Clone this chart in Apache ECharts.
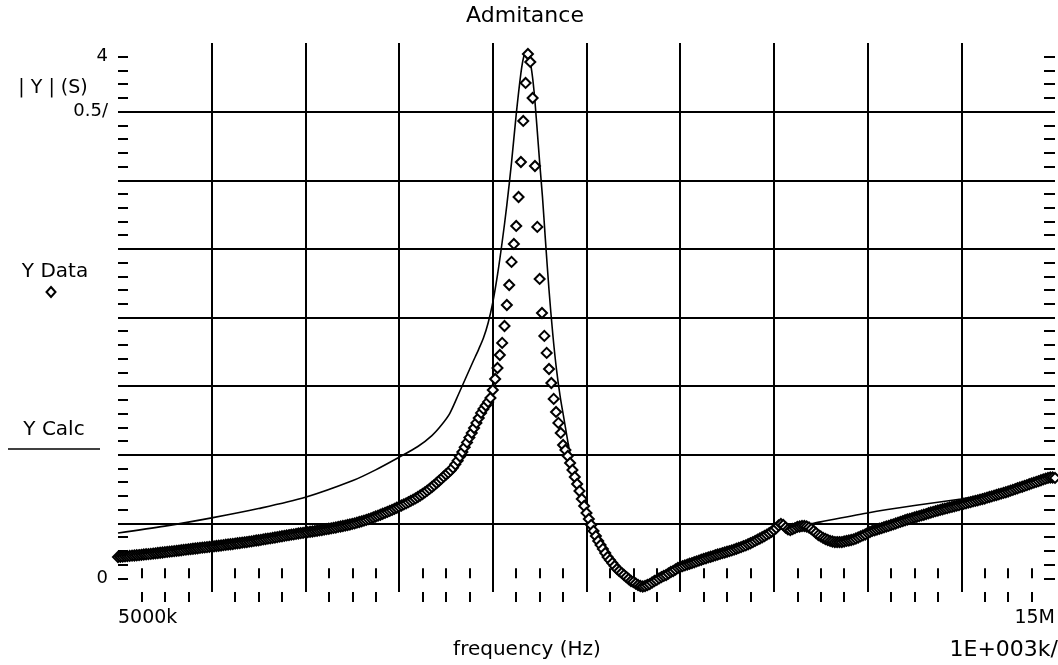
<!DOCTYPE html>
<html><head><meta charset="utf-8">
<script src="https://cdn.jsdelivr.net/npm/echarts@6/dist/echarts.min.js"></script>
<style>html,body{margin:0;padding:0;background:#fff}#c{width:1058px;height:665px}</style>
</head><body><div id="c"></div>
<script>
// ---------- texts ----------
const chartTitle = 'Admitance';
const xName = 'frequency (Hz)';
const xScaleNote = '1E+003k/';
const yName = '| Y | (S)';
const seriesNames = ['Y Data', 'Y Calc'];

// ---------- tick labels ----------
const xLabelValues = [5, 15];            // MHz
const xLabelTexts = ['5000k', '15M'];
const yLabelValues = [0, 3.4, 3.8];
const yLabelTexts = ['0', '0.5/', '4'];

// ---------- measured data (sweep 5 MHz .. 15 MHz, 25 kHz step) ----------
const sweepStartMHz = 5;
const sweepStepMHz = 0.025;
const yData = [
  // 5.000 - 5.975
  0.155,0.157,0.158,0.160,0.161,0.163,0.165,0.166,0.168,0.169,
  0.171,0.173,0.175,0.176,0.178,0.180,0.182,0.184,0.186,0.188,
  0.190,0.192,0.194,0.196,0.198,0.200,0.202,0.204,0.207,0.209,
  0.211,0.213,0.215,0.217,0.219,0.221,0.223,0.225,0.227,0.229,
  // 6.000 - 6.975
  0.231,0.233,0.235,0.237,0.239,0.241,0.244,0.246,0.248,0.250,
  0.253,0.255,0.257,0.260,0.262,0.264,0.267,0.269,0.272,0.275,
  0.277,0.280,0.283,0.286,0.289,0.291,0.294,0.297,0.300,0.303,
  0.306,0.309,0.312,0.315,0.318,0.320,0.323,0.326,0.329,0.331,
  // 7.000 - 7.975
  0.334,0.336,0.339,0.341,0.344,0.346,0.349,0.352,0.355,0.358,
  0.361,0.364,0.367,0.370,0.374,0.377,0.381,0.384,0.388,0.392,
  0.396,0.400,0.405,0.410,0.415,0.420,0.425,0.431,0.437,0.443,
  0.450,0.456,0.463,0.470,0.477,0.484,0.491,0.498,0.506,0.514,
  // 8.000 - 8.975
  0.522,0.530,0.538,0.546,0.555,0.564,0.573,0.582,0.592,0.603,
  0.614,0.626,0.638,0.651,0.665,0.679,0.694,0.709,0.724,0.740,
  0.756,0.770,0.786,0.806,0.830,0.857,0.887,0.920,0.955,0.990,
  1.025,1.059,1.095,1.132,1.168,1.205,1.234,1.259,1.285,1.314,
  // 9.000 - 9.975
  1.372,1.452,1.532,1.627,1.715,1.838,1.991,2.137,2.305,2.436,
  2.567,2.778,3.033,3.332,3.609,3.820,3.762,3.499,3.004,2.560,
  2.181,1.933,1.766,1.642,1.525,1.423,1.307,1.212,1.132,1.059,
  0.971,0.935,0.891,0.840,0.789,0.738,0.687,0.636,0.578,0.527,
  // 10.000 - 10.975
  0.476,0.432,0.388,0.345,0.308,0.272,0.243,0.214,0.184,0.155,
  0.133,0.111,0.090,0.068,0.053,0.039,0.024,0.009,-0.005,-0.020,
  -0.027,-0.038,-0.049,-0.056,-0.060,-0.056,-0.049,-0.042,-0.031,-0.020,
  -0.012,-0.001,0.009,0.017,0.024,0.035,0.046,0.053,0.064,0.075,
  // 11.000 - 11.975
  0.082,0.088,0.094,0.100,0.106,0.111,0.117,0.123,0.129,0.135,
  0.141,0.146,0.152,0.157,0.162,0.168,0.173,0.178,0.183,0.188,
  0.193,0.198,0.203,0.209,0.215,0.221,0.227,0.234,0.240,0.248,
  0.255,0.263,0.272,0.281,0.290,0.299,0.308,0.318,0.328,0.339,
  // 12.000 - 12.975
  0.352,0.366,0.385,0.396,0.388,0.370,0.356,0.352,0.359,0.366,
  0.374,0.377,0.381,0.381,0.377,0.370,0.359,0.345,0.330,0.315,
  0.305,0.294,0.286,0.279,0.272,0.268,0.264,0.264,0.264,0.264,
  0.268,0.272,0.275,0.279,0.283,0.290,0.297,0.305,0.312,0.319,
  // 13.000 - 13.975
  0.330,0.337,0.345,0.350,0.355,0.361,0.366,0.372,0.377,0.382,
  0.388,0.393,0.399,0.405,0.411,0.417,0.423,0.428,0.433,0.438,
  0.443,0.448,0.453,0.458,0.463,0.468,0.474,0.479,0.484,0.489,
  0.494,0.498,0.503,0.507,0.511,0.516,0.520,0.525,0.529,0.533,
  // 14.000 - 14.975
  0.538,0.542,0.546,0.551,0.555,0.560,0.564,0.568,0.573,0.577,
  0.581,0.587,0.592,0.597,0.602,0.607,0.612,0.617,0.622,0.627,
  0.632,0.638,0.644,0.650,0.656,0.662,0.667,0.673,0.679,0.685,
  0.691,0.697,0.702,0.708,0.714,0.720,0.726,0.731,0.734,0.734,
  // 15.000
  0.731
];

// ---------- calculated model curve ----------
const calcFreq = [5.0,5.5,6.0,6.5,7.0,7.5,7.75,8.0,8.2,8.35,8.45,8.54,8.64,8.78,8.85,8.9,8.95,9.0,9.05,9.1,
  9.15,9.2,9.25,9.3,9.33,9.355,9.38,9.41,9.44,9.47,9.5,9.53,9.56,9.6,9.64,9.68,9.72,9.76,9.81,9.9,
  10.0,10.1,10.2,10.3,10.4,10.5,10.6,10.7,10.8,11.0,11.5,12.0,12.07,12.15,12.25,12.34,12.5,13.0,13.5,14.0,
  14.5,15.0];
const yCalc = [0.330,0.380,0.440,0.508,0.590,0.710,0.790,0.882,0.960,1.040,1.115,1.200,1.350,1.565,1.670,1.750,1.860,2.010,2.210,2.450,
  2.720,3.030,3.380,3.680,3.800,3.830,3.810,3.720,3.550,3.300,3.030,2.780,2.480,2.100,1.780,1.520,1.320,1.160,0.960,0.643,
  0.447,0.279,0.162,0.082,0.017,-0.027,-0.052,-0.029,0.009,0.082,0.192,0.352,0.396,0.360,0.375,0.388,0.411,0.476,0.530,0.578,
  0.630,0.745];

// ---------- build ----------
const FONT = '"DejaVu Sans", sans-serif';
const dataPts = yData.map((v, i) => [+(sweepStartMHz + i * sweepStepMHz).toFixed(3), v]);
const calcPts = calcFreq.map((f, i) => [f, yCalc[i]]);

const yTickVals = [];
for (let k = 0; k <= 38; k++) yTickVals.push(+(k * 0.1).toFixed(1));

const black = '#000';
const chart = echarts.init(document.getElementById('c'), null, {renderer: 'canvas'});
chart.setOption({
  animation: false,
  backgroundColor: '#fff',
  grid: {left: 118, right: 1, top: 43, bottom: 73, containLabel: false},
  xAxis: [
    {
      type: 'value', position: 'bottom', min: 5, max: 15, interval: 1,
      axisLine: {show: false},
      axisTick: {show: false, inside: true},
      minorTick: {show: true, splitNumber: 4, length: 10, lineStyle: {color: black, width: 2}},
      splitLine: {show: true, showMinLine: false, showMaxLine: false, lineStyle: {color: black, width: 2}},
      axisLabel: {
        show: true, customValues: xLabelValues, margin: 17,
        color: black, fontFamily: FONT, fontSize: 19,
        alignMinLabel: 'left', alignMaxLabel: 'right',
        formatter: v => { const i = xLabelValues.findIndex(x => Math.abs(x - v) < 1e-6); return i >= 0 ? xLabelTexts[i] : ''; }
      }
    },
    {
      type: 'value', position: 'top', min: 5, max: 15, interval: 1,
      axisLine: {show: false},
      axisTick: {show: false, inside: true},
      minorTick: {show: true, splitNumber: 4, length: 10, lineStyle: {color: black, width: 2}},
      splitLine: {show: false},
      axisLabel: {show: false}
    }
  ],
  yAxis: [
    {
      type: 'value', position: 'left', min: -0.1, max: 3.9,
      axisLine: {show: false},
      axisTick: {show: true, inside: true, length: 10, customValues: yTickVals, lineStyle: {color: black, width: 2}},
      splitLine: {show: false},
      minorTick: {show: false},
      axisLabel: {
        show: true, customValues: yLabelValues, margin: 10,
        color: black, fontFamily: FONT, fontSize: 18,
        formatter: v => { const i = yLabelValues.findIndex(x => Math.abs(x - v) < 1e-6); return i >= 0 ? yLabelTexts[i] : ''; }
      }
    },
    {
      type: 'value', position: 'right', min: 0, max: 8, interval: 1,
      axisLine: {show: false},
      axisTick: {show: false, inside: true},
      minorTick: {show: true, splitNumber: 5, length: 11, lineStyle: {color: black, width: 2}},
      splitLine: {show: true, showMinLine: false, showMaxLine: false, lineStyle: {color: black, width: 2}},
      axisLabel: {show: false}
    }
  ],
  series: [
    {
      name: seriesNames[1], type: 'line', xAxisIndex: 0, yAxisIndex: 0,
      data: calcPts, showSymbol: false, smooth: 0.3, z: 2,
      lineStyle: {color: black, width: 1.6}
    },
    {
      name: seriesNames[0], type: 'scatter', xAxisIndex: 0, yAxisIndex: 0,
      data: dataPts, symbol: 'diamond', symbolSize: 10, z: 3,
      itemStyle: {color: '#fff', borderColor: black, borderWidth: 2, opacity: 1}
    }
  ],
  graphic: [
    {type: 'text', x: 525, y: 16, style: {text: chartTitle, font: '22px ' + FONT, fill: black, align: 'center', verticalAlign: 'middle'}},
    {type: 'text', x: 53, y: 88, style: {text: yName, font: '19px ' + FONT, fill: black, align: 'center', verticalAlign: 'middle'}},
    {type: 'text', x: 55, y: 272, style: {text: seriesNames[0], font: '20px ' + FONT, fill: black, align: 'center', verticalAlign: 'middle'}},
    {type: 'polygon', shape: {points: [[51, 287], [55.5, 292], [51, 297], [46.5, 292]]}, style: {fill: '#fff', stroke: black, lineWidth: 2}},
    {type: 'text', x: 54, y: 430, style: {text: seriesNames[1], font: '20px ' + FONT, fill: black, align: 'center', verticalAlign: 'middle'}},
    {type: 'line', shape: {x1: 8, y1: 449, x2: 100, y2: 449}, style: {stroke: black, lineWidth: 1.5}},
    {type: 'text', x: 527, y: 650, style: {text: xName, font: '20px ' + FONT, fill: black, align: 'center', verticalAlign: 'middle'}},
    {type: 'text', x: 1058, y: 650, style: {text: xScaleNote, font: '22px ' + FONT, fill: black, align: 'right', verticalAlign: 'middle'}}
  ]
});
</script>
</body></html>
